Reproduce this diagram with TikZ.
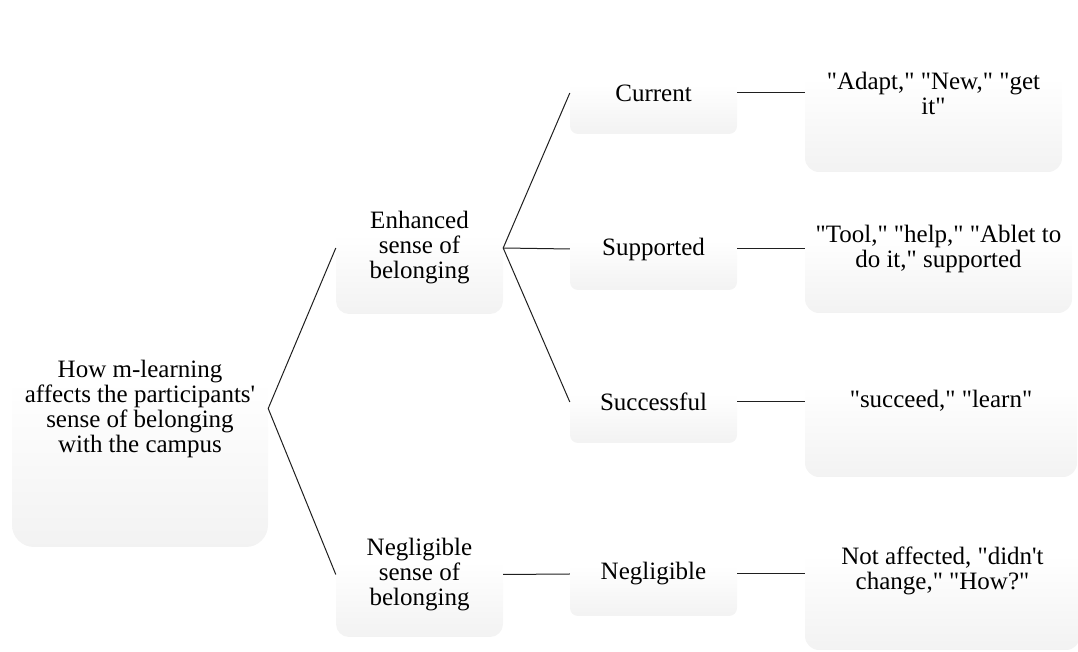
\documentclass[tikz,border=0pt]{standalone}
\usepackage{fontspec}
\setmainfont{Liberation Serif}[Ligatures=TeXOff]
\definecolor{boxlow}{gray}{0.875}
\definecolor{boxmid}{gray}{0.95}
\definecolor{linkcol}{gray}{0.12}
\begin{document}
% soft white-to-grey fill, darker towards the bottom of each box
\pgfdeclareverticalshading{softgray}{100bp}{color(0bp)=(boxlow); color(25bp)=(boxmid); color(55bp)=(white); color(100bp)=(white)}
\tikzset{
  box/.style={rectangle, inner sep=0pt, align=center, shading=softgray,
    font=\fontsize{25}{25}\selectfont, text=black},
  link/.style={draw=linkcol, line width=1pt}
}
\begin{tikzpicture}[x=1pt,y=1pt]
\useasboundingbox (0,0) rectangle (1078,652);
\clip (0,0) rectangle (1078,652);

% first level
\node[box, minimum width=256, minimum height=277, rounded corners=22]
  (root) at (140,243.5) {How m-learning\\affects the participants'\\sense of belonging\\with the campus};

% second level
\node[box, minimum width=167, minimum height=132, rounded corners=13]
  (enh) at (419.5,404) {Enhanced\\sense of\\belonging};
\node[box, minimum width=167, minimum height=125, rounded corners=13]
  (negs) at (419.5,77.5) {Negligible\\sense of\\belonging};

% third level
\node[box, minimum width=167, minimum height=82, rounded corners=8]
  (cur) at (653.5,559) {Current};
\node[box, minimum width=167, minimum height=82, rounded corners=8]
  (sup) at (653.5,403) {Supported};
\node[box, minimum width=167, minimum height=82, rounded corners=8]
  (suc) at (653.5,250) {Successful};
\node[box, minimum width=167, minimum height=84, rounded corners=8]
  (neg) at (653.5,78) {Negligible};

% quoted words
\node[box, minimum width=257, minimum height=157, rounded corners=14]
  (ad) at (933.5,558.5) {"Adapt," "New," "get\\it"};
\node[box, minimum width=267, minimum height=128, rounded corners=14]
  (tool) at (938.5,403) {"Tool," "help," "Ablet to\\do it," supported};
\node[box, minimum width=272, minimum height=152, rounded corners=14]
  (succ) at (941,251) {"succeed," "learn"};
\node[box, minimum width=275, minimum height=158, rounded corners=14]
  (nota) at (942.5,81) {Not affected, "didn't\\change," "How?"};

% connectors
\draw[link] (enh.west) -- (root.east) -- (negs.west);
\draw[link] (cur.west) -- (enh.east) -- (suc.west);
\draw[link] (enh.east) -- (sup.west);
\draw[link] (negs.east) -- (neg.west);
\draw[link] (cur.east) -- (cur.east -| ad.west);
\draw[link] (sup.east) -- (sup.east -| tool.west);
\draw[link] (suc.east) -- (suc.east -| succ.west);
\draw[link] (neg.east) -- (neg.east -| nota.west);
\end{tikzpicture}
\end{document}
